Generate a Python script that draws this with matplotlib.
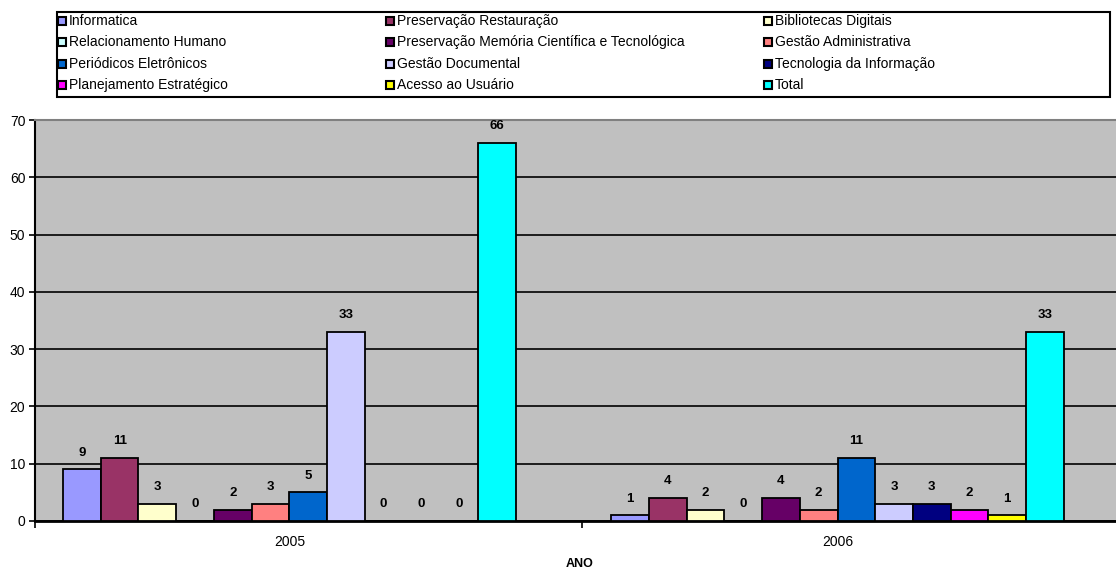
import numpy as np
import matplotlib.pyplot as plt
from matplotlib.patches import Rectangle

plt.rcParams['font.family'] = ['Liberation Sans', 'DejaVu Sans']

anos = ['2005', '2006']
series = ['Informatica', 'Preservação Restauração', 'Bibliotecas Digitais',
          'Relacionamento Humano', 'Preservação Memória Científica e Tecnológica',
          'Gestão Administrativa', 'Periódicos Eletrônicos', 'Gestão Documental',
          'Tecnologia da Informação', 'Planejamento Estratégico',
          'Acesso ao Usuário', 'Total']
v2005 = [9, 11, 3, 0, 2, 3, 5, 33, 0, 0, 0, 66]
v2006 = [1, 4, 2, 0, 4, 2, 11, 3, 3, 2, 1, 33]
cores = ['#9999FF', '#993366', '#FFFFCC', '#CCFFFF', '#660066', '#FF8080',
         '#0066CC', '#CCCCFF', '#000080', '#FF00FF', '#FFFF00', '#00FFFF']

W, H = 1116, 571
fig = plt.figure(figsize=(W/100, H/100), dpi=100)
ax = fig.add_axes([35/W, 1-521/H, 1-35/W, (521-120)/H])
ax.set_facecolor('#C0C0C0')

x = np.arange(len(anos))
w = 0.0688
n = len(series)
for i, nome in enumerate(series):
    vals = [v2005[i], v2006[i]]
    pos = x + (i - (n-1)/2)*w
    ax.bar(pos, vals, w, color=cores[i], edgecolor='black', linewidth=1.3,
           zorder=3, label=nome)
    for p, v in zip(pos, vals):
        ax.annotate(str(v), (p, v), xytext=(0, 12), textcoords='offset points',
                    ha='center', va='center', fontsize=9.5, fontweight='bold')

ax.set_ylim(0, 70)
ax.set_yticks(range(0, 61, 10))
ax.set_yticks([70], minor=True)
ax.set_yticklabels([str(t) for t in range(0, 61, 10)])
ax.set_yticklabels(['70'], minor=True)
ax.yaxis.grid(True, which='major', color='black', linewidth=1.2, zorder=1)
ax.set_xlim(-0.464, 1.508)
ax.set_xticks(x)
ax.set_xticklabels(anos, fontsize=10)
ax.set_xticks([-0.464, 0.534], minor=True)
ax.tick_params(axis='x', which='major', length=0, pad=10)
ax.tick_params(axis='x', which='minor', length=5, width=1.2, direction='out')
ax.tick_params(axis='y', which='both', labelsize=10, length=4, width=1.2,
               direction='out', pad=3)
ax.spines['top'].set_color('#808080')
ax.spines['top'].set_linewidth(1.5)
ax.spines['right'].set_visible(False)
ax.spines['bottom'].set_linewidth(2)
ax.spines['left'].set_linewidth(1.5)
ax.set_xlabel('ANO', fontsize=9, fontweight='bold', va='center')
ax.xaxis.set_label_coords(0.504, -0.108)

# legenda manual em 3 colunas, preenchida por linhas
fig.add_artist(Rectangle((57/W, 1-97/H), (1110-57)/W, 85/H, transform=fig.transFigure,
                         facecolor='white', edgecolor='black', linewidth=1.5))
col_x = [58, 386, 764]
row_y = [21, 42, 64, 85]
for i, nome in enumerate(series):
    cx = col_x[i % 3]
    cy = row_y[i // 3]
    fig.add_artist(Rectangle((cx/W, 1-(cy+4)/H), 8/W, 8/H, transform=fig.transFigure,
                             facecolor=cores[i], edgecolor='black', linewidth=1.5))
    fig.text((cx+11)/W, 1-cy/H, nome, fontsize=10, va='center', ha='left')

fig.savefig('out.png', dpi=100)
